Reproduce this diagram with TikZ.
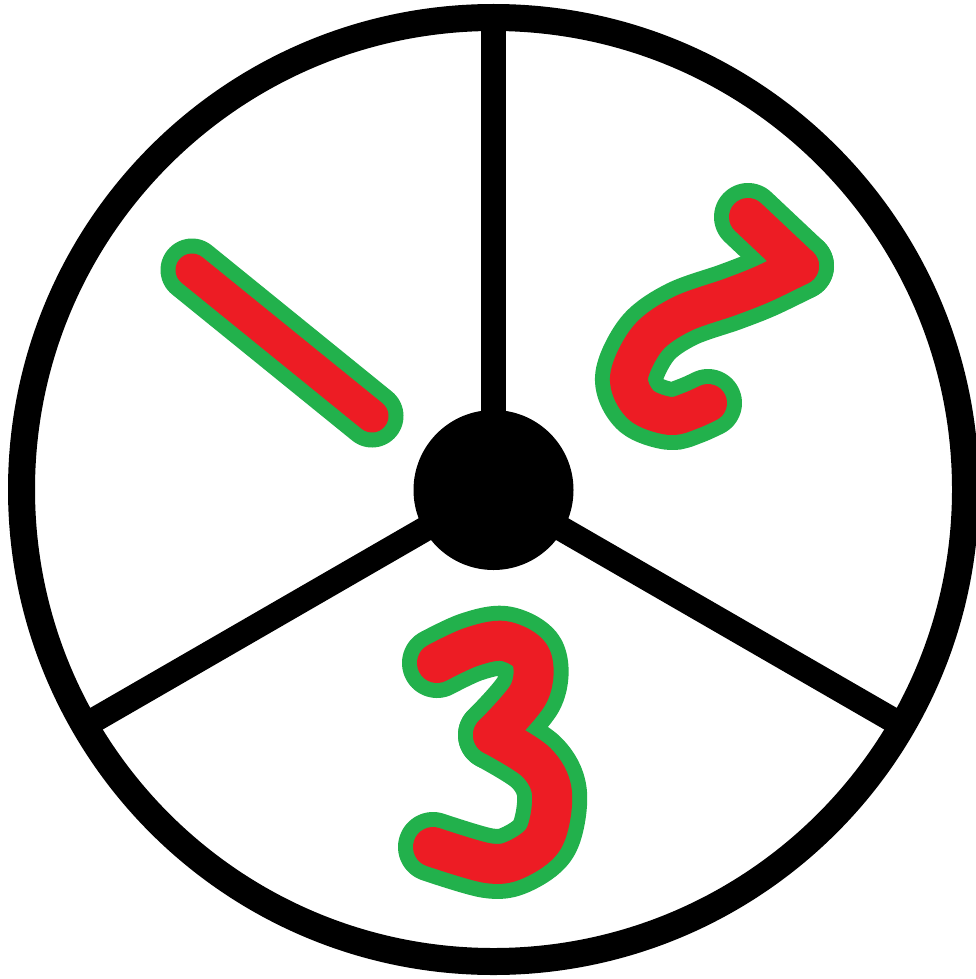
\documentclass[tikz,border=0pt]{standalone}
\definecolor{numred}{HTML}{ED1C24}
\definecolor{numgreen}{HTML}{22B14C}
\begin{document}
\begin{tikzpicture}[x=1pt,y=-1pt,
  rim/.style={draw=black,line width=27pt},
  spoke/.style={draw=black,line width=25pt},
  glow/.style={draw=numgreen,line cap=round,line join=round},
  ink/.style={draw=numred,line cap=round,line join=round}]
\useasboundingbox (0,0) rectangle (975,979);
\fill[white] (0,0) rectangle (975,979);
\coordinate (c) at (493.5,489.5);
\coordinate (top) at (493.5,17.5);
\coordinate (ll) at (84.7,725.5);
\coordinate (lr) at (902.3,725.5);
\draw[spoke] (c) -- (top);
\draw[spoke] (c) -- (ll);
\draw[spoke] (c) -- (lr);
\draw[rim] (c) circle[radius=472];
\fill[black] (493.5,490) circle[radius=80];
% numeral 1
\coordinate (oneA) at (192,270);
\coordinate (oneB) at (372,416);
\draw[glow,line width=63pt] (oneA) -- (oneB);
\draw[ink,line width=33pt] (oneA) -- (oneB);
% numeral 2
\coordinate (twoA) at (748,217);
\coordinate (twoB) at (800,266);
\draw[glow,line width=68pt] (twoA) -- (twoB);
\draw[glow,line width=68pt] plot[smooth,tension=0.55] coordinates {(800,266) (763,284) (730,297) (682,314) (648,338) (629,377) (641,405) (670,416) (690,411) (708,403)};
% numeral 3
\draw[glow,line width=70pt] plot[smooth,tension=0.55] coordinates {(437,663) (471,647) (504,641) (531,657) (529,693) (493,735)};
\draw[glow,line width=70pt] plot[smooth,tension=0.55] coordinates {(493,735) (536,762) (552,793) (544,838) (515,860) (487,863) (433,847)};
% red inks
\draw[ink,line width=38pt] (twoA) -- (twoB);
\draw[ink,line width=38pt] plot[smooth,tension=0.55] coordinates {(800,266) (763,284) (730,297) (682,314) (648,338) (629,377) (641,405) (670,416) (690,411) (708,403)};
\draw[ink,line width=40pt] plot[smooth,tension=0.55] coordinates {(437,663) (471,647) (504,641) (531,657) (529,693) (493,735)};
\draw[ink,line width=40pt] plot[smooth,tension=0.55] coordinates {(493,735) (536,762) (552,793) (544,838) (515,860) (487,863) (433,847)};
\end{tikzpicture}
\end{document}
